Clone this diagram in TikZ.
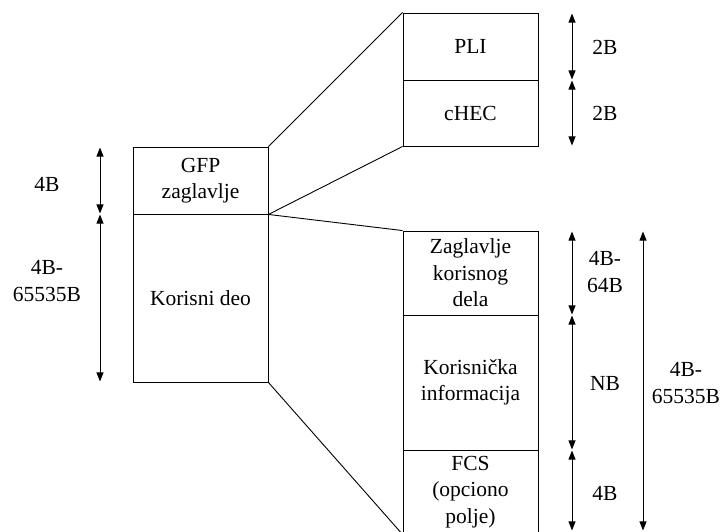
\documentclass[tikz,border=0pt]{standalone}
\usepackage{fontspec}
\setmainfont{Liberation Serif}
\usetikzlibrary{arrows.meta,positioning,calc}

\begin{document}
\begin{tikzpicture}[x=1pt,y=-1pt,>={Triangle[length=9pt,width=7pt]},line width=0.9pt]
  \tikzset{
    field/.style={draw, minimum width=135pt, inner sep=0pt, align=center,
      font=\fontsize{21.5}{26.5}\selectfont},
    dimlabel/.style={align=center, font=\fontsize{21.5}{26.5}\selectfont},
    dimarrow/.style={<->, shorten <=1pt, shorten >=1pt},
  }
\useasboundingbox (0,0) rectangle (725,531);

% GFP okvir
\node[field, minimum height=67pt] (gfp) at (200.5,180.5) {GFP\\zaglavlje};
\node[field, minimum height=168pt] (korisni) at (200.5,298) {Korisni deo};

% zaglavlje
\node[field, minimum height=67pt] (pli) at (470.5,46.5) {PLI};
\node[field, minimum height=66pt] (chec) at (470.5,113) {cHEC};

% korisni deo
\node[field, minimum height=84pt] (zkd) at (470.5,273) {Zaglavlje\\korisnog\\dela};
\node[field, minimum height=135pt] (kinf) at (470.5,382.5) {Korisnička\\informacija};
\node[field, minimum height=84pt] (fcs) at (470.5,492) {FCS\\(opciono\\polje)};

\draw (gfp.north east)--(pli.north west);
\draw (gfp.south east)--(chec.south west);
\draw (gfp.south east)--(zkd.north west);
\draw (korisni.south east)--(fcs.south west);

% dimenzije
\coordinate (dimL) at (100,0);
\coordinate (dimR) at (572,0);
\coordinate (dimT) at (643,0);

\draw[dimarrow] (gfp.north -| dimL)--(gfp.south -| dimL);
\draw[dimarrow] (korisni.north -| dimL)--(korisni.south -| dimL);
\draw[dimarrow] (pli.north -| dimR)--(pli.south -| dimR);
\draw[dimarrow] (chec.north -| dimR)--(chec.south -| dimR);
\draw[dimarrow] (zkd.north -| dimR)--(zkd.south -| dimR);
\draw[dimarrow] (kinf.north -| dimR)--(kinf.south -| dimR);
\draw[dimarrow] (fcs.north -| dimR)--($(fcs.south -| dimR)+(0,-3)$);
\draw[dimarrow] (zkd.north -| dimT)--($(fcs.south -| dimT)+(0,-3)$);

\node[dimlabel] (lgfp) at (47,184) {4B};
\node[dimlabel] (lkor) at (47,281) {4B-\\65535B};
\node[dimlabel] (lpli) at (605,47) {2B};
\node[dimlabel] (lchec) at (605,113) {2B};
\node[dimlabel] (lzkd) at (605,272) {4B-\\64B};
\node[dimlabel] (lkinf) at (605,383) {NB};
\node[dimlabel] (lfcs) at (605,493) {4B};
\node[dimlabel] (lukup) at (686,383) {4B-\\65535B};

\end{tikzpicture}
\end{document}
